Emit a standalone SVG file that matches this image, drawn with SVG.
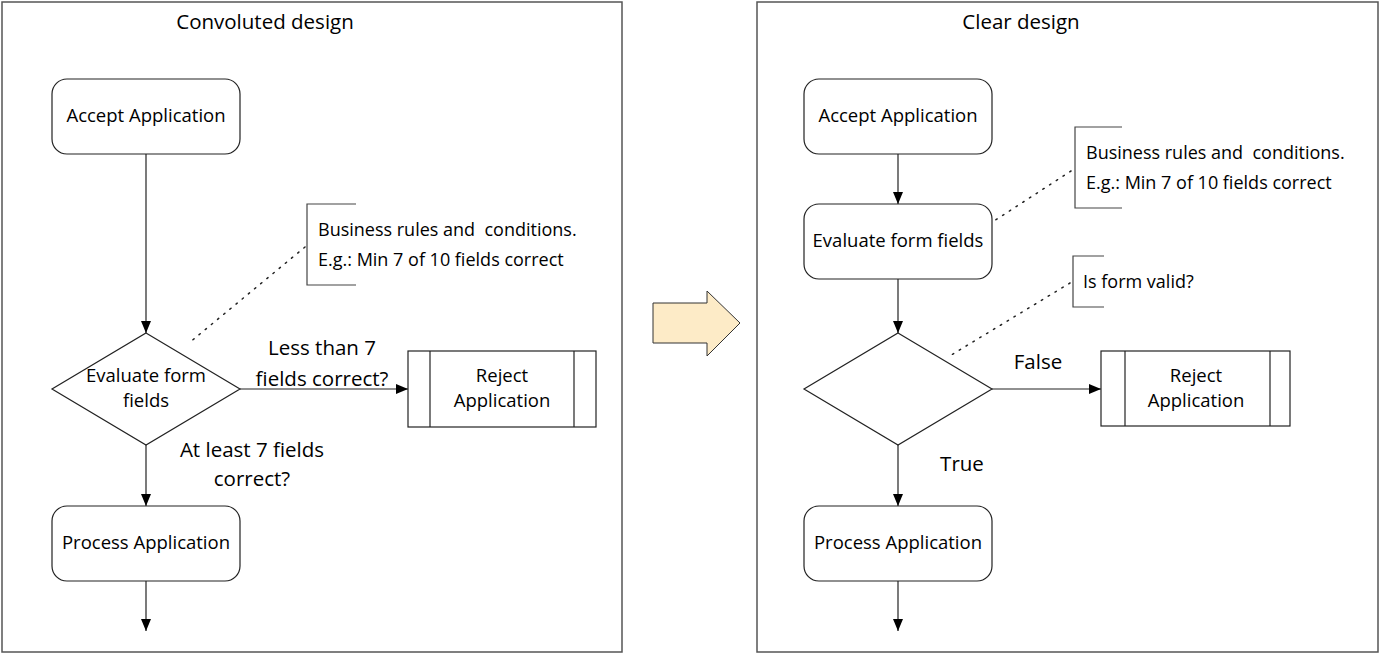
<svg xmlns="http://www.w3.org/2000/svg" width="1380" height="654" viewBox="0 0 1380 654">
<style>
text{font-family:"Open Sans","Liberation Sans",Arial,sans-serif;fill:#000}
.frame{fill:#fff;stroke:#555;stroke-width:1.5}
.box{fill:#fff;stroke:#222;stroke-width:1.2}
.line{fill:none;stroke:#222;stroke-width:1.2}
.dot{fill:none;stroke:#222;stroke-width:1.5;stroke-dasharray:1.5 6.5;stroke-linecap:round}
.br{fill:none;stroke:#444;stroke-width:1.2}
.node{font-size:18.5px}
.note{font-size:18px}
.lbl{font-size:20.5px}
.title{font-size:20.5px}
</style>
<defs>
<marker id="ah" markerUnits="userSpaceOnUse" markerWidth="12" markerHeight="12" viewBox="0 0 12 12" refX="12" refY="6" orient="auto">
<path d="M0,1 L12,6 L0,11 Z" fill="#000"/>
</marker>
</defs>
<rect width="1380" height="654" fill="#fff"/>

<g id="left-panel">
<rect class="frame" x="2" y="2" width="620" height="650"/>
<text class="title" x="265" y="29" text-anchor="middle">Convoluted design</text>
</g>
<g id="right-panel">
<rect class="frame" x="757" y="2" width="621" height="650"/>
<text class="title" x="1021" y="29" text-anchor="middle">Clear design</text>
</g>

<g id="transition-arrow">
<path d="M653,303 L707,303 L707,291 L740,323 L707,356 L707,343 L653,343 Z" fill="#fdebc7" stroke="#333" stroke-width="1"/>
</g>

<g id="connectors">
<line class="line" x1="146" y1="154" x2="146" y2="333" marker-end="url(#ah)"/>
<line class="line" x1="240" y1="389" x2="408" y2="389" marker-end="url(#ah)"/>
<line class="line" x1="146" y1="445" x2="146" y2="506" marker-end="url(#ah)"/>
<line class="line" x1="146" y1="581" x2="146" y2="631" marker-end="url(#ah)"/>
<line class="dot" x1="305" y1="247" x2="189" y2="343"/>
<line class="line" x1="898" y1="154" x2="898" y2="204" marker-end="url(#ah)"/>
<line class="line" x1="898" y1="279" x2="898" y2="333" marker-end="url(#ah)"/>
<line class="line" x1="992" y1="389" x2="1101" y2="389" marker-end="url(#ah)"/>
<line class="line" x1="898" y1="445" x2="898" y2="506" marker-end="url(#ah)"/>
<line class="line" x1="898" y1="581" x2="898" y2="631" marker-end="url(#ah)"/>
<line class="dot" x1="1071" y1="171" x2="994" y2="221"/>
<line class="dot" x1="1070" y1="283" x2="948" y2="357"/>
<text class="lbl" x="322" y="355" text-anchor="middle">Less than 7</text>
<text class="lbl" x="322" y="386" text-anchor="middle">fields correct?</text>
<text class="lbl" x="252" y="457" text-anchor="middle">At least 7 fields</text>
<text class="lbl" x="252" y="486" text-anchor="middle">correct?</text>
<text class="lbl" x="1038" y="369" text-anchor="middle">False</text>
<text class="lbl" x="962" y="471" text-anchor="middle">True</text>
</g>

<g id="l-accept">
<rect class="box" x="52" y="79" width="188" height="75" rx="15"/>
<text class="node" x="146" y="122" text-anchor="middle">Accept Application</text>
</g>
<g id="l-evaluate">
<polygon class="box" points="146,333 240,389 146,445 52,389"/>
<text class="node" x="146" y="382" text-anchor="middle">Evaluate form</text>
<text class="node" x="146" y="407" text-anchor="middle">fields</text>
</g>
<g id="l-note">
<path class="br" d="M356,204 L307,204 L307,285 L356,285"/>
<text class="note" x="318" y="236" xml:space="preserve">Business rules and  conditions.</text>
<text class="note" x="318" y="266">E.g.: Min 7 of 10 fields correct</text>
</g>
<g id="l-reject">
<rect class="box" x="408" y="351" width="188" height="76"/>
<line class="line" x1="430" y1="351" x2="430" y2="427"/>
<line class="line" x1="574" y1="351" x2="574" y2="427"/>
<text class="node" x="502" y="382" text-anchor="middle">Reject</text>
<text class="node" x="502" y="407" text-anchor="middle">Application</text>
</g>
<g id="l-process">
<rect class="box" x="52" y="506" width="188" height="75" rx="15"/>
<text class="node" x="146" y="549" text-anchor="middle">Process Application</text>
</g>

<g id="r-accept">
<rect class="box" x="804" y="79" width="188" height="75" rx="15"/>
<text class="node" x="898" y="122" text-anchor="middle">Accept Application</text>
</g>
<g id="r-evaluate">
<rect class="box" x="804" y="204" width="188" height="75" rx="15"/>
<text class="node" x="898" y="247" text-anchor="middle">Evaluate form fields</text>
</g>
<g id="r-note1">
<path class="br" d="M1122,127 L1075,127 L1075,208 L1122,208"/>
<text class="note" x="1086" y="159" xml:space="preserve">Business rules and  conditions.</text>
<text class="note" x="1086" y="189">E.g.: Min 7 of 10 fields correct</text>
</g>
<g id="r-decision">
<polygon class="box" points="898,333 992,389 898,445 804,389"/>
</g>
<g id="r-note2">
<path class="br" d="M1104,256 L1073,256 L1073,307 L1104,307"/>
<text class="note" x="1083" y="288">Is form valid?</text>
</g>
<g id="r-reject">
<rect class="box" x="1101" y="351" width="189" height="75"/>
<line class="line" x1="1125" y1="351" x2="1125" y2="426"/>
<line class="line" x1="1270" y1="351" x2="1270" y2="426"/>
<text class="node" x="1196" y="382" text-anchor="middle">Reject</text>
<text class="node" x="1196" y="407" text-anchor="middle">Application</text>
</g>
<g id="r-process">
<rect class="box" x="804" y="506" width="188" height="75" rx="15"/>
<text class="node" x="898" y="549" text-anchor="middle">Process Application</text>
</g>
</svg>
